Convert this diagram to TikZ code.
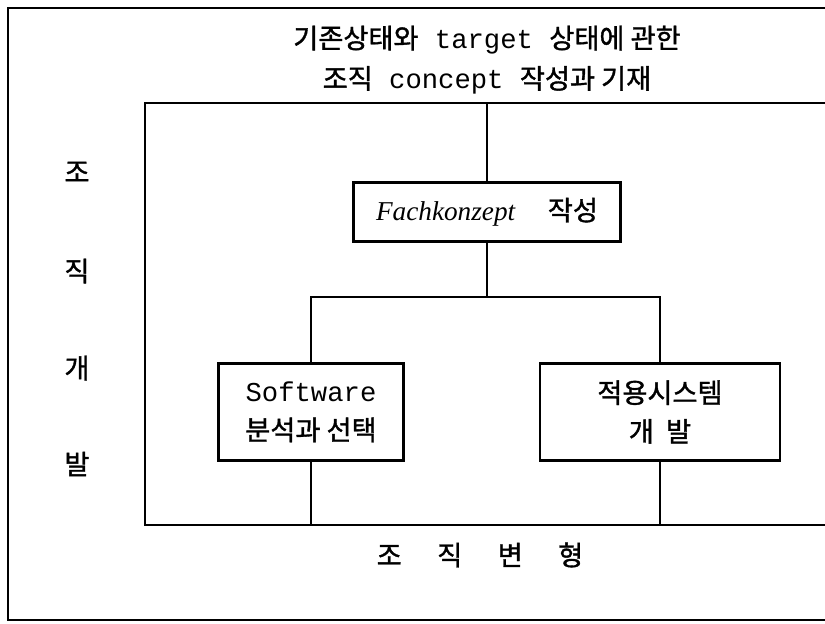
\documentclass[tikz,border=0pt]{standalone}
\usepackage{fontspec}
\setmainfont{Liberation Mono}
\newfontfamily\kr{Noto Sans CJK KR}[FakeBold=1.3]
\newfontfamily\lat{Liberation Serif}
\usepackage{tikz}
\usetikzlibrary{positioning, calc}

\begin{document}
\begin{tikzpicture}[x=0.02cm, y=-0.02cm,
  frame/.style={line width=1.3pt, black},
  box/.style={draw, line width=1.3pt, align=center, inner sep=0pt,
    font=\fontsize{15.5}{22}\selectfont},
  lbl/.style={font=\fontsize{15.5}{18}\selectfont\kr}]
\useasboundingbox (0,0) rectangle (825,623);
% outer frame (open to the right)
\draw[frame] (825,8) -- (8,8) -- (8,620) -- (825,620);
% inner frame (open to the right)
\draw[frame] (825,103) -- (145,103) -- (145,525) -- (825,525);
% title
\node[align=center, font=\fontsize{15.5}{23}\selectfont] (title) at (487,60)
  {{\kr 기존상태와} target {\kr 상태에 관한}\\{\kr 조직} concept {\kr 작성과 기재}};
% boxes
\node[box, minimum width=5.34cm, minimum height=1.18cm] (fach) at (487,212)
  {{\lat\itshape Fachkonzept}\ \ {\kr 작성}};
\node[box, minimum width=3.7cm, minimum height=1.94cm] (soft) at (311,412)
  {Software\\{\kr 분석과 선택}};
\node[box, minimum width=4.8cm, minimum height=1.94cm] (appl) at (660,412)
  {{\kr 적용시스템}\\{\kr 개\ \ 발}};
% junctions on the frame
\coordinate (topj) at (487,103);
\coordinate (split) at (487,297);
\coordinate (bot) at (145,525);
% connectors
\draw[frame] (topj) -- (fach.north);
\draw[frame] (fach.south) -- (split);
\draw[frame] (soft.north) |- (split) -| (appl.north);
\draw[frame] (soft.south) -- (soft.south |- bot);
\draw[frame] (appl.south) -- (appl.south |- bot);
% side and bottom labels
\node[lbl] (s1) at (77,172) {조};
\node[lbl] (s2) at (77,271) {직};
\node[lbl] (s3) at (77,368) {개};
\node[lbl] (s4) at (77,464) {발};
\node[lbl] (change) at (480,555) {조\hspace{1.3em}직\hspace{1.3em}변\hspace{1.3em}형};
\end{tikzpicture}
\end{document}
